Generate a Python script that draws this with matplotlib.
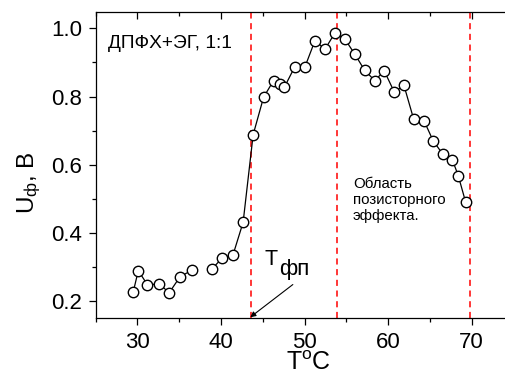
import numpy as np
import matplotlib
matplotlib.use("Agg")
import matplotlib.pyplot as plt
from matplotlib.ticker import MultipleLocator

# fonts (Arial-like)
plt.rcParams['font.family'] = ['Liberation Sans', 'DejaVu Sans']
plt.rcParams['mathtext.fontset'] = 'custom'
plt.rcParams['mathtext.rm'] = 'Liberation Sans'
plt.rcParams['mathtext.it'] = 'Liberation Sans'

# data (nan = gap in the curve)
temp = [29.5, 30.1, 31.2, 32.6, 33.8, 35.1, 36.5, np.nan,
        38.9, 40.1, 41.45, 42.65, 43.85, 45.1, 46.3, 47.1, 47.6, 48.85,
        50.05, 51.25, 52.45, 53.65, 54.85, 56.0, 57.2, 58.4, 59.55, 60.75,
        61.9, 63.05, 64.3, 65.4, 66.55, 67.7, 68.4, 69.3]
volt = [0.227, 0.289, 0.247, 0.250, 0.224, 0.271, 0.290, np.nan,
        0.293, 0.325, 0.336, 0.431, 0.688, 0.798, 0.847, 0.837, 0.828, 0.888,
        0.887, 0.964, 0.939, 0.987, 0.968, 0.925, 0.877, 0.847, 0.875, 0.813,
        0.833, 0.735, 0.729, 0.670, 0.631, 0.614, 0.568, 0.489]

# red dashed markers of temperature
vlines_t = [43.55, 53.85, 69.85]

fig = plt.figure(figsize=(5.05, 3.74), dpi=100)
ax = fig.add_axes([0.1895, 0.149, 0.8105, 0.8197])

ax.plot(temp, volt, color='black', lw=0.9, marker='o', markersize=7.5,
        markerfacecolor='white', markeredgecolor='black', markeredgewidth=1.0,
        zorder=3)

for t in vlines_t:
    ax.axvline(t, ymin=0, ymax=1.01, color='red', lw=1.1,
               dashes=(4, 3), clip_on=False, zorder=2)

ax.set_xlim(25, 74)
ax.set_ylim(0.149, 1.049)

# ticks
ax.xaxis.set_major_locator(MultipleLocator(10))
ax.xaxis.set_minor_locator(MultipleLocator(5))
ax.yaxis.set_major_locator(MultipleLocator(0.2))
ax.yaxis.set_minor_locator(MultipleLocator(0.1))
ax.tick_params(axis='both', which='major', direction='out', length=5,
               width=0.9, labelsize=16)
ax.tick_params(axis='x', which='major', pad=5)
ax.tick_params(axis='y', which='major', pad=5)
ax.tick_params(axis='both', which='minor', direction='out', length=3, width=0.9)
ax.tick_params(axis='x', which='both', top=True)
ax.yaxis.set_major_formatter(matplotlib.ticker.FormatStrFormatter('%.1f'))

# top ticks point inward
for tk in ax.xaxis.get_major_ticks() + ax.xaxis.get_minor_ticks():
    tk.tick2line.set_marker(matplotlib.lines.TICKDOWN)

ax.spines['right'].set_visible(False)
for s in ['left', 'bottom', 'top']:
    ax.spines[s].set_linewidth(0.9)

# labels
ax.set_xlabel('T$^{\\mathregular{o}}$C', fontsize=18)
ax.xaxis.set_label_coords(0.521, -0.108)
ax.set_ylabel('U$_{\\mathregular{ф}}$, B', fontsize=17.5)
ax.yaxis.set_label_coords(-0.128, 0.443)

# annotations
ax.text(0.030, 0.895, 'ДПФХ+ЭГ, 1:1', transform=ax.transAxes,
        fontsize=13.8, va='center', ha='left')
ax.text(55.8, 0.565, 'Область\nпозисторного\nэффекта.', fontsize=10.8,
        va='top', ha='left', linespacing=1.2)
ax.text(45.2, 0.305, 'T', fontsize=15.5, va='baseline', ha='left')
ax.text(46.95, 0.276, 'фп', fontsize=16, va='baseline', ha='left')
ax.annotate('', xy=(43.5, 0.152), xytext=(48.6, 0.248),
            arrowprops=dict(arrowstyle='-|>', color='black', lw=0.8,
                            mutation_scale=8, shrinkA=0, shrinkB=0))

fig.savefig('out.png', dpi=100)
